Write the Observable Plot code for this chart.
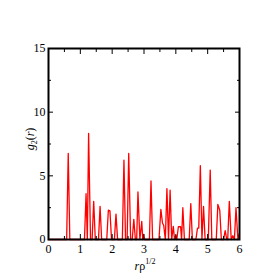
<!DOCTYPE html>
<html>
<head>
<meta charset="utf-8">
<script src="https://cdn.jsdelivr.net/npm/d3@7"></script>
<script src="https://cdn.jsdelivr.net/npm/@observablehq/plot@0.6"></script>
<style>
  html, body { margin: 0; padding: 0; background: #fff; }
  svg text { font-family: "Liberation Serif", "DejaVu Serif", serif !important; }
</style>
</head>
<body>
<div id="chart"></div>
<script>
const rValues = [0, 0.57, 0.62, 0.67, 1.13, 1.18, 1.22, 1.26, 1.32, 1.37, 1.42, 1.47, 1.57, 1.62, 1.67,
  1.83, 1.88, 1.93, 1.98, 2.07, 2.12, 2.17, 2.32, 2.37, 2.42, 2.47, 2.52, 2.58, 2.63, 2.68, 2.73,
  2.77, 2.81, 2.87, 2.93, 2.96, 2.98, 3.01, 3.17, 3.22, 3.27, 3.47, 3.53, 3.58, 3.62, 3.67, 3.72,
  3.77, 3.82, 3.87, 3.92, 3.96, 4.0, 4.03, 4.08, 4.15, 4.18, 4.22, 4.27, 4.42, 4.47, 4.52, 4.63,
  4.68, 4.72, 4.77, 4.82, 4.87, 4.92, 5.02, 5.08, 5.13, 5.27, 5.32, 5.38, 5.43, 5.5, 5.55, 5.6,
  5.63, 5.68, 5.74, 5.79, 5.84, 5.89, 5.95, 6.0];
const gValues = [0, 0, 6.77, 0, 0, 3.6, 0, 8.34, 0, 0, 3.0, 0, 0, 2.6, 0,
  0, 2.3, 2.25, 0, 0, 2.0, 0, 0, 6.23, 0, 0, 6.76, 0, 0, 1.58, 0,
  0, 3.73, 0, 1.42, 0, 0.4, 0, 0, 4.6, 0, 0, 2.37, 1.3, 1.1, 0, 4.0,
  0, 3.87, 0, 1.03, 0, 0.3, 0, 1.0, 1.0, 0, 2.5, 0, 0, 2.82, 0, 0,
  0.9, 0.9, 5.79, 0, 2.6, 0, 0, 5.45, 0, 0, 2.76, 2.3, 0, 0, 0.7, 0,
  0, 3.0, 0, 0.3, 0, 2.5, 0, 0.5];
const xMajorTicks = [0, 1, 2, 3, 4, 5, 6];
const xMinorTicks = [0.5, 1.5, 2.5, 3.5, 4.5, 5.5];
const yMajorTicks = [0, 5, 10, 15];
const yMinorTicks = [2.5, 7.5, 12.5];

const data = rValues.map((r, i) => ({r, g: gValues[i]}));
const noLabel = () => "";
const serif = "Liberation Serif";

const plot = Plot.plot({
  width: 273,
  height: 273,
  marginLeft: 48,
  marginRight: 34,
  marginTop: 48,
  marginBottom: 34,
  style: {fontFamily: serif, fontSize: "12px", color: "black", background: "white"},
  x: {domain: [0, 6]},
  y: {domain: [0, 15]},
  marks: [
    Plot.line(data, {x: "r", y: "g", stroke: "red", strokeWidth: 1.3}),
    Plot.axisX({ticks: xMajorTicks, tickSize: 0, tickPadding: 5, tickFormat: d3.format("d"), label: null, fontFamily: serif, fontSize: 12}),
    Plot.axisY({ticks: yMajorTicks, tickSize: 0, tickPadding: 3, tickFormat: d3.format("d"), label: null, fontFamily: serif, fontSize: 12}),
    Plot.axisX({ticks: xMajorTicks, tickSize: -5, tickFormat: noLabel, label: null}),
    Plot.axisX({ticks: xMinorTicks, tickSize: -3, tickFormat: noLabel, label: null}),
    Plot.axisX({anchor: "top", ticks: xMajorTicks, tickSize: -5, tickFormat: noLabel, label: null}),
    Plot.axisX({anchor: "top", ticks: xMinorTicks, tickSize: -3, tickFormat: noLabel, label: null}),
    Plot.axisY({ticks: yMajorTicks, tickSize: -5, tickFormat: noLabel, label: null}),
    Plot.axisY({ticks: yMinorTicks, tickSize: -3, tickFormat: noLabel, label: null}),
    Plot.axisY({anchor: "right", ticks: yMajorTicks, tickSize: -5, tickFormat: noLabel, label: null}),
    Plot.axisY({anchor: "right", ticks: yMinorTicks, tickSize: -3, tickFormat: noLabel, label: null}),
    Plot.frame({stroke: "black", strokeWidth: 2})
  ]
});

const svg = d3.select(plot);
// y axis label: g2(r)
const yl = svg.append("text")
  .attr("transform", "translate(34,139) rotate(-90)")
  .attr("text-anchor", "middle")
  .attr("font-family", serif)
  .attr("font-size", 12)
  .attr("fill", "black");
yl.append("tspan").attr("font-style", "italic").text("g");
yl.append("tspan").attr("font-size", 8).attr("dy", 3).text("2");
yl.append("tspan").attr("dy", -3).text("(");
yl.append("tspan").attr("font-style", "italic").text("r");
yl.append("tspan").text(")");

// x axis label: rρ^1/2
const xl = svg.append("text")
  .attr("x", 145)
  .attr("y", 270)
  .attr("text-anchor", "middle")
  .attr("font-family", serif)
  .attr("font-size", 12)
  .attr("fill", "black");
xl.append("tspan").attr("font-style", "italic").text("r");
xl.append("tspan").text("ρ");
xl.append("tspan").attr("font-size", 8).attr("dy", -6).text("1/2");

document.getElementById("chart").appendChild(plot);
</script>
</body>
</html>
